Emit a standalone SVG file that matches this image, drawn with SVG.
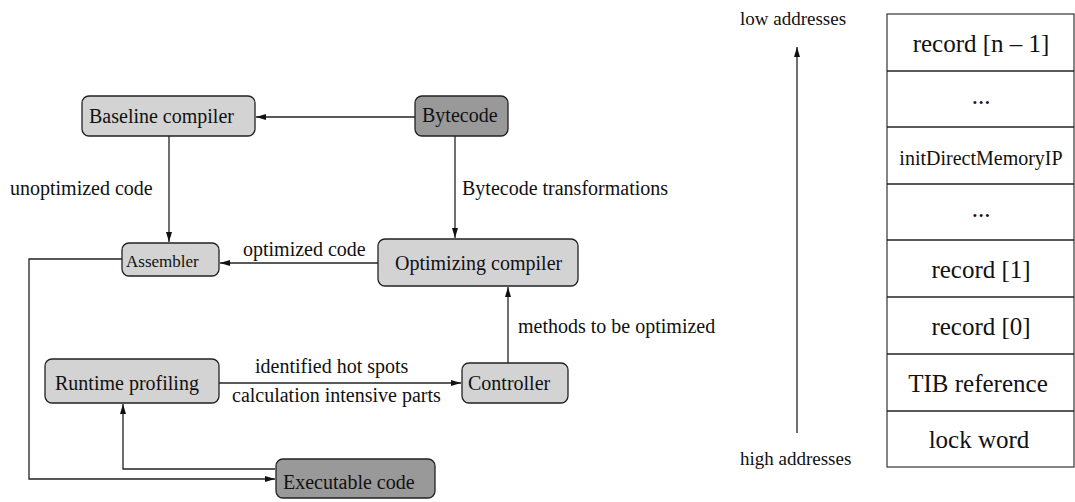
<svg xmlns="http://www.w3.org/2000/svg" width="1075" height="502" viewBox="0 0 1075 502">
<style>
text{font-family:"Liberation Serif","Times New Roman",serif;fill:#111}
.n{font-size:20px}
.s{font-size:17px}
.r{font-size:25px;text-anchor:middle}
.a{font-size:19px}
.box{fill:#d3d3d3;stroke:#222;stroke-width:1.3}
.dark{fill:#999;stroke:#222;stroke-width:1.3}
.c{fill:none;stroke:#222;stroke-width:1.3}
.t{fill:#fff;stroke:#444;stroke-width:1.3}
</style>
<defs>
<marker id="ah" markerUnits="userSpaceOnUse" markerWidth="11" markerHeight="7" refX="10" refY="3" orient="auto">
<path d="M0,0 L10,3 L0,6 z" fill="#111"/>
</marker>
</defs>
<rect width="1075" height="502" fill="#fff"/>
<g id="connectors">
<line class="c" x1="415" y1="117" x2="256" y2="117" marker-end="url(#ah)"/>
<line class="c" x1="169" y1="136" x2="169" y2="242" marker-end="url(#ah)"/>
<line class="c" x1="455" y1="136" x2="455" y2="238" marker-end="url(#ah)"/>
<line class="c" x1="378" y1="263" x2="220" y2="263" marker-end="url(#ah)"/>
<polyline class="c" points="122,259 29,259 29,479 275,479" marker-end="url(#ah)"/>
<polyline class="c" points="275,469 123,469 123,404" marker-end="url(#ah)"/>
<line class="c" x1="219" y1="383" x2="461" y2="383" marker-end="url(#ah)"/>
<line class="c" x1="508" y1="363" x2="508" y2="287" marker-end="url(#ah)"/>
<text class="n" x="10" y="195">unoptimized code</text>
<text class="n" x="462" y="195">Bytecode transformations</text>
<text class="n" x="243" y="256">optimized code</text>
<text class="n" x="518" y="333">methods to be optimized</text>
<text class="n" x="255" y="373">identified hot spots</text>
<text class="n" x="232" y="402">calculation intensive parts</text>
</g>
<g id="baseline">
<rect class="box" x="82" y="96" width="173" height="40" rx="7"/>
<text class="n" x="89" y="123">Baseline compiler</text>
</g>
<g id="bytecode">
<rect class="dark" x="415" y="96" width="93" height="40" rx="7"/>
<text class="n" x="422" y="122">Bytecode</text>
</g>
<g id="assembler">
<rect class="box" x="122" y="243" width="97" height="33" rx="7"/>
<text class="s" x="126" y="267">Assembler</text>
</g>
<g id="optimizing">
<rect class="box" x="378" y="239" width="200" height="47" rx="7"/>
<text class="n" x="395" y="270">Optimizing compiler</text>
</g>
<g id="runtime">
<rect class="box" x="45" y="359" width="174" height="44" rx="7"/>
<text class="n" x="55" y="390">Runtime profiling</text>
</g>
<g id="controller">
<rect class="box" x="462" y="363" width="106" height="40" rx="7"/>
<text class="n" x="468" y="390">Controller</text>
</g>
<g id="executable">
<rect class="dark" x="276" y="459" width="159" height="39" rx="7"/>
<text class="n" x="283" y="489">Executable code</text>
</g>
<g id="addresses">
<line class="c" x1="797" y1="433" x2="797" y2="47" marker-end="url(#ah)"/>
<text class="a" x="740" y="25">low addresses</text>
<text class="a" x="740" y="465">high addresses</text>
</g>
<g id="table">
<rect class="t" x="887" y="14" width="187" height="453"/>
<line class="c" x1="887" y1="71" x2="1074" y2="71"/>
<line class="c" x1="887" y1="127" x2="1074" y2="127"/>
<line class="c" x1="887" y1="184" x2="1074" y2="184"/>
<line class="c" x1="887" y1="240" x2="1074" y2="240"/>
<line class="c" x1="887" y1="297" x2="1074" y2="297"/>
<line class="c" x1="887" y1="354" x2="1074" y2="354"/>
<line class="c" x1="887" y1="411" x2="1074" y2="411"/>
<text class="r" x="981" y="52">record [n – 1]</text>
<text class="r" x="981" y="104">...</text>
<text class="n" x="981" y="165" text-anchor="middle">initDirectMemoryIP</text>
<text class="r" x="981" y="217">...</text>
<text class="r" x="981" y="278">record [1]</text>
<text class="r" x="981" y="335">record [0]</text>
<text class="r" x="978" y="392">TIB reference</text>
<text class="r" x="979" y="448">lock word</text>
</g>
</svg>
